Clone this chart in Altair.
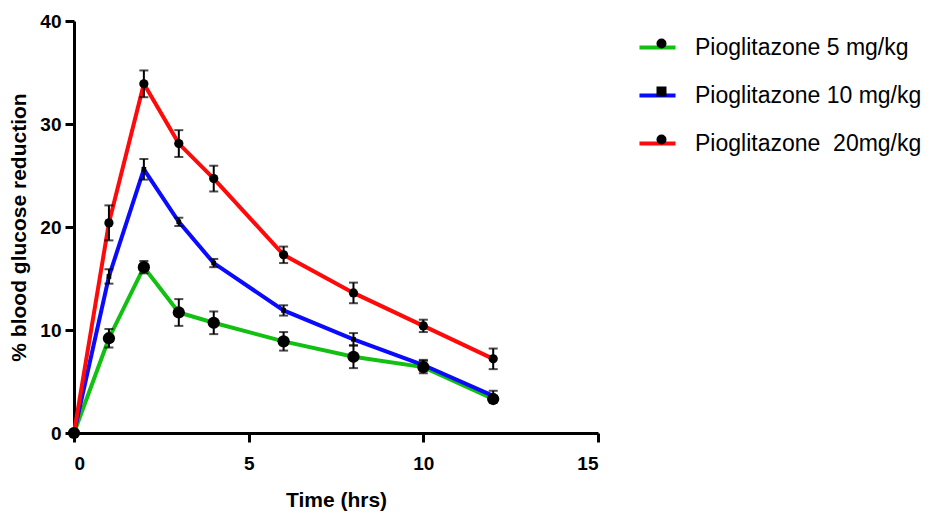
import altair as alt
import pandas as pd

times = [0, 1, 2, 3, 4, 6, 8, 10, 12]
series = ["Pioglitazone 5 mg/kg", "Pioglitazone 10 mg/kg", "Pioglitazone\u00a0 20mg/kg"]
colors = ["#11c011", "#0a0aff", "#ff0a0a"]
shapes = ["circle", "square", "circle"]
marker_sizes = [150, 22, 85]

mean_5 = [0, 9.2, 16.1, 11.7, 10.7, 8.9, 7.4, 6.4, 3.3]
sem_5 = [0, 0.9, 0.6, 1.3, 1.1, 0.9, 1.1, 0.6, 0.3]
mean_10 = [0, 15.2, 25.6, 20.5, 16.5, 11.9, 9.1, 6.6, 3.6]
sem_10 = [0, 0.7, 1.0, 0.4, 0.4, 0.5, 0.6, 0.5, 0.5]
mean_20 = [0, 20.4, 33.9, 28.1, 24.7, 17.3, 13.6, 10.4, 7.2]
sem_20 = [0, 1.7, 1.3, 1.3, 1.25, 0.8, 1.0, 0.6, 1.0]

rows = []
for name, means, sems, msz in zip(series, [mean_5, mean_10, mean_20], [sem_5, sem_10, sem_20], marker_sizes):
    for t, m, s in zip(times, means, sems):
        rows.append({"time": t, "value": m, "lo": m - s, "hi": m + s, "series": name, "msize": msz})
df = pd.DataFrame(rows)

FONT = "Liberation Sans"
LEG_FS = 23

x = alt.X("time:Q", scale=alt.Scale(domain=[0, 15], nice=False),
          axis=alt.Axis(values=[0, 5, 10, 15], title="Time (hrs)"))
y = alt.Y("value:Q", scale=alt.Scale(domain=[0, 40], nice=False),
          axis=alt.Axis(values=[0, 10, 20, 30, 40], title="% blood glucose reduction"))

color = alt.Color("series:N", scale=alt.Scale(domain=series, range=colors),
                  legend=alt.Legend(title=None, orient="none", legendX=563, legendY=6,
                                    symbolType="stroke", symbolStrokeWidth=4, symbolSize=1300,
                                    labelFontSize=LEG_FS, labelFont=FONT, labelColor="black",
                                    rowPadding=15, labelOffset=17, labelLimit=400))

shape = alt.Shape("series:N", scale=alt.Scale(domain=series, range=shapes),
                  legend=alt.Legend(title=None, orient="none", legendX=576, legendY=11,
                                    symbolSize=100, symbolFillColor="black", symbolStrokeColor="black",
                                    symbolStrokeWidth=0, labelExpr="''",
                                    labelFontSize=LEG_FS, labelFont=FONT,
                                    rowPadding=24, labelOffset=0))

base = alt.Chart(df)
lines = base.mark_line(strokeWidth=4).encode(x=x, y=y, color=color, order="time:Q")
bars = base.mark_rule(color="black", strokeWidth=2).encode(x="time:Q", y="lo:Q", y2="hi:Q")
caps_hi = base.mark_tick(color="black", thickness=2, size=9, orient="horizontal").encode(x="time:Q", y="hi:Q")
caps_lo = base.mark_tick(color="black", thickness=2, size=9, orient="horizontal").encode(x="time:Q", y="lo:Q")
points = base.mark_point(filled=True, color="black", opacity=1).encode(
    x="time:Q", y="value:Q", shape=shape, size=alt.Size("msize:Q", scale=None))

chart = alt.layer(lines, bars, caps_hi, caps_lo, points).resolve_legend(
    color="independent", shape="independent"
).properties(
    width=524, height=412, padding={"left": 0, "top": 4, "right": 5, "bottom": 5}
).configure_view(stroke=None).configure_axis(
    grid=False, domainColor="black", domainWidth=3, tickColor="black", tickWidth=3,
    labelFont=FONT, labelFontSize=19, labelFontWeight="bold", labelColor="black",
    titleFont=FONT, titleFontSize=21, titleFontWeight="bold", titleColor="black"
).configure_axisY(titlePadding=10, labelPadding=4, tickSize=9
).configure_axisX(titlePadding=16, labelPadding=12, tickSize=9)

chart.save("out.html", embed_options={"renderer": "svg", "actions": False})
